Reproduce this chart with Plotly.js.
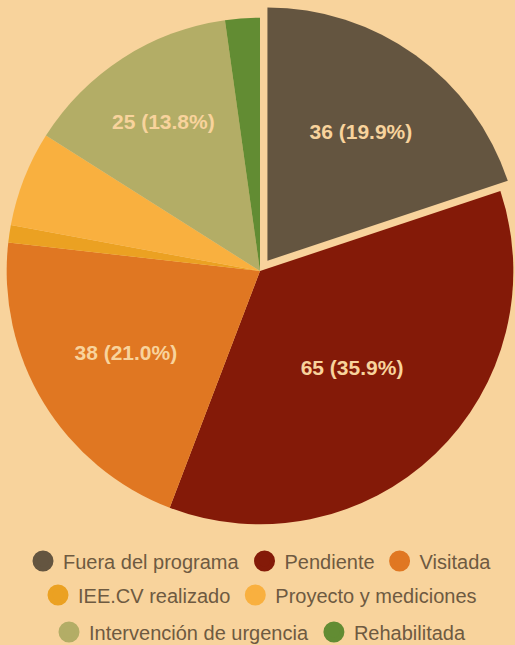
<!DOCTYPE html>
<html>
<head>
<meta charset="utf-8">
<script src="https://cdn.plot.ly/plotly-3.0.1.min.js"></script>
<style>
  html, body { margin: 0; padding: 0; background: #f8d39c; overflow: hidden; width: 515px; height: 645px; }
  #chart { position: absolute; left: -6px; top: 0; }
</style>
</head>
<body>
<div id="chart"></div>
<script>
const categories = ["Fuera del programa", "Pendiente", "Visitada", "IEE.CV realizado", "Proyecto y mediciones", "Intervención de urgencia", "Rehabilitada"];
const values = [36, 65, 38, 2, 11, 25, 4];
const colors = ["#645540", "#841a08", "#e07722", "#eba122", "#f9b03f", "#b3ad66", "#628c33"];
const pulls = [0.05, 0, 0, 0, 0, 0, 0];
const legendRows = ["legend", "legend", "legend", "legend2", "legend2", "legend3", "legend3"];

const FONT = "'Liberation Sans Narrow', 'Arial Narrow', 'Liberation Sans', Arial, sans-serif";
const BG = "#f8d39c";

const pie = {
  type: "pie",
  labels: categories,
  values: values,
  sort: false,
  direction: "clockwise",
  rotation: 0,
  pull: pulls,
  marker: { colors: colors, line: { width: 0 } },
  texttemplate: values.map(v => v >= 20 ? "%{value} (%{percent:.1%})" : ""),
  textposition: "inside",
  insidetextorientation: "horizontal",
  textfont: { family: FONT, size: 21, color: BG, weight: "bold" },
  hoverinfo: "label+value+percent",
  showlegend: false,
  domain: { x: [0, 1], y: [0.1674, 0.9922] }
};

const legendTraces = categories.map((c, i) => ({
  type: "scatter",
  mode: "markers",
  x: [null], y: [null],
  name: c,
  legend: legendRows[i],
  marker: { symbol: "circle", size: 16, color: colors[i], line: { width: 5, color: colors[i] } },
  showlegend: true,
  hoverinfo: "skip"
}));

const legendBase = {
  orientation: "h",
  xanchor: "center",
  x: 0.5,
  yanchor: "middle",
  bgcolor: "rgba(0,0,0,0)",
  font: { family: FONT, size: 20, color: "#6e5a41" },
  itemclick: false,
  itemdoubleclick: false
};

const layout = {
  width: 532,
  height: 645,
  margin: { l: 0, r: 0, t: 0, b: 0, autoexpand: false },
  paper_bgcolor: BG,
  plot_bgcolor: BG,
  xaxis: { visible: false, domain: [0, 0.01] },
  yaxis: { visible: false, domain: [0, 0.01] },
  legend: Object.assign({}, legendBase, { y: 1 - 561 / 645 }),
  legend2: Object.assign({}, legendBase, { y: 1 - 595 / 645 }),
  legend3: Object.assign({}, legendBase, { y: 1 - 632 / 645 })
};

Plotly.newPlot("chart", [pie].concat(legendTraces), layout, { displayModeBar: false, staticPlot: true });
</script>
</body>
</html>
